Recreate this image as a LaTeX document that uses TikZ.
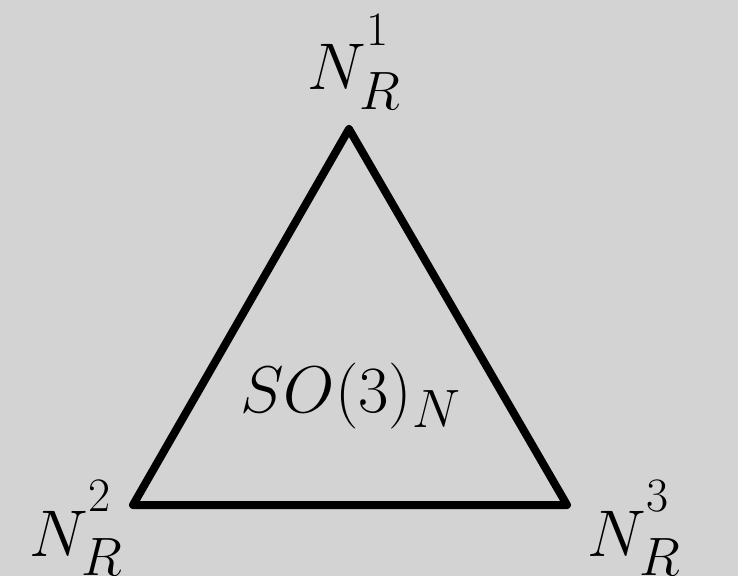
\documentclass[tikz,border=0pt]{standalone}
\usepackage{fix-cm}
\usepackage{amsmath}
\usepackage{tikz}
\usetikzlibrary{positioning}
\definecolor{Canvas}{HTML}{D3D3D3}
\DeclareMathSizes{33}{33}{27}{24}
\newcommand{\upidx}[1]{\smash{\raisebox{10.5pt}{$\scriptscriptstyle #1$}}}
\newcommand{\lowidx}[1]{\smash{\raisebox{-1.5pt}{$\scriptstyle #1$}}}

\begin{document}
\begin{tikzpicture}[x=0.5pt,y=-0.5pt,
        edge/.style={draw=black,line width=4pt,line join=round},
        vlabel/.style={inner sep=0pt,anchor=base west,font=\fontsize{33}{40}\selectfont}]
        \fill[Canvas] (0,0) rectangle (738,576);
        \coordinate (top) at (349,129);
        \coordinate (left) at (133,505);
        \coordinate (right) at (567,505);
        \draw[edge] (top) -- (left) -- (right) -- cycle;
        \node[vlabel] (n1) at (307,90) {$N_{\lowidx{R}}^{\upidx{1}}$};
        \node[vlabel] (n2) at (29,556) {$N_{\lowidx{R}}^{\upidx{2}}$};
        \node[vlabel] (n3) at (587,556) {$N_{\lowidx{R}}^{\upidx{3}}$};
        \node[vlabel] (group) at (240,413) {$SO(3)_N$};
      \end{tikzpicture}
\end{document}
